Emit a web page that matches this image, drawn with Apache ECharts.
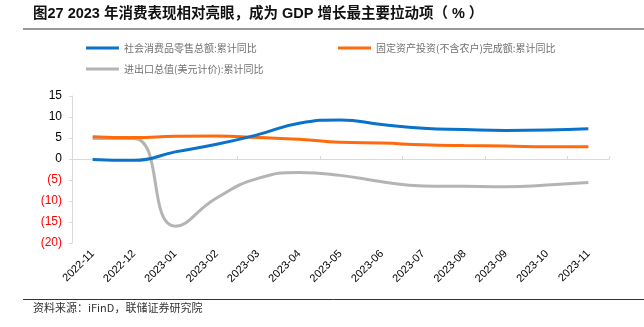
<!DOCTYPE html>
<html>
<head>
<meta charset="utf-8">
<script src="https://cdn.jsdelivr.net/npm/echarts@6/dist/echarts.min.js"></script>
<style>html,body{margin:0;padding:0;background:#fff}#c{width:644px;height:327px}</style>
</head>
<body>
<div id="c"></div>
<script>
const categories = ['2022-11','2022-12','2023-01','2023-02','2023-03','2023-04','2023-05','2023-06','2023-07','2023-08','2023-09','2023-10','2023-11'];
const retailSales = [-0.1, -0.3, 1.7, 3.5, 5.8, 8.5, 9.3, 8.2, 7.3, 7.0, 6.8, 6.9, 7.2];
const fixedInvestment = [5.3, 5.1, 5.4, 5.5, 5.1, 4.7, 4.0, 3.8, 3.4, 3.2, 3.1, 2.9, 2.9];
const tradeTotal = [4.9, 4.9, -16.0, -9.3, -4.6, -3.2, -3.9, -5.4, -6.4, -6.5, -6.6, -6.2, -5.6];
const yTicks = [15, 10, 5, 0, -5, -10, -15, -20];
const seriesNames = ['社会消费品零售总额:累计同比', '固定资产投资(不含农户)完成额:累计同比', '进出口总值(美元计价):累计同比'];
const colors = ['#0A72C8', '#FF6A0D', '#B4B4B4'];

const chart = echarts.init(document.getElementById('c'));
const latin = 'Liberation Sans, Arial, Noto Sans CJK SC, sans-serif';
const cjk = 'Noto Sans CJK SC, sans-serif';

function legendFor(i, left, top) {
  return {
    data: [seriesNames[i]], left: left, top: top, orient: 'horizontal',
    icon: 'rect', itemWidth: 33, itemHeight: 3, itemGap: 0, padding: 0,
    textStyle: { color: '#707070', fontSize: 10, fontFamily: cjk }
  };
}

chart.setOption({
  animation: false,
  title: {
    text: '图27 2023 年消费表现相对亮眼，成为 GDP 增长最主要拉动项（ % ）',
    left: 33, top: 7, padding: 0,
    textStyle: { fontSize: 14.5, fontWeight: 'bold', color: '#111', fontFamily: latin }
  },
  legend: [legendFor(0, 86, 43), legendFor(1, 338, 43), legendFor(2, 86, 64)],
  grid: { left: 72, right: 35, top: 96, bottom: 84, containLabel: false },
  xAxis: [
    {
      type: 'category', data: categories, boundaryGap: true, position: 'bottom',
      axisLine: { show: false, onZero: false }, axisTick: { show: false },
      axisLabel: { rotate: 45, fontSize: 11, color: '#000', fontFamily: latin, margin: 9, interval: 0 }
    },
    {
      type: 'category', data: categories, boundaryGap: true, position: 'bottom',
      axisLine: { show: true, onZero: true, onZeroAxisIndex: 0, lineStyle: { color: '#d9d9d9', width: 1 } },
      axisTick: { show: true, inside: true, length: 3, lineStyle: { color: '#d9d9d9' } },
      axisLabel: { show: false }
    }
  ],
  yAxis: {
    type: 'value', min: -20, max: 15, interval: 5,
    splitLine: { show: false },
    axisLine: { show: true, lineStyle: { color: '#d9d9d9', width: 1 } },
    axisTick: { show: true, length: 3, lineStyle: { color: '#d9d9d9' } },
    axisLabel: {
      fontSize: 12, fontFamily: latin, margin: 10,
      formatter: function (v) { return v < 0 ? '{neg|(' + Math.abs(v) + ')}' : '{pos|' + v + '}'; },
      rich: { neg: { color: '#FF0000', fontSize: 12, fontFamily: latin }, pos: { color: '#000', fontSize: 12, fontFamily: latin } }
    }
  },
  series: [
    { name: seriesNames[0], type: 'line', data: retailSales, smooth: 0.5, showSymbol: false, xAxisIndex: 0, lineStyle: { width: 3, color: colors[0] }, itemStyle: { color: colors[0] }, z: 4 },
    { name: seriesNames[1], type: 'line', data: fixedInvestment, smooth: 0.5, showSymbol: false, xAxisIndex: 0, lineStyle: { width: 3, color: colors[1] }, itemStyle: { color: colors[1] }, z: 3 },
    { name: seriesNames[2], type: 'line', data: tradeTotal, smooth: 0.5, showSymbol: false, xAxisIndex: 0, lineStyle: { width: 3, color: colors[2] }, itemStyle: { color: colors[2] }, z: 2 }
  ],
  graphic: [
    { type: 'line', shape: { x1: 23, y1: 29, x2: 644, y2: 29 }, style: { stroke: '#999', lineWidth: 2 } },
    { type: 'line', shape: { x1: 23, y1: 299.5, x2: 644, y2: 299.5 }, style: { stroke: '#333', lineWidth: 1 } },
    { type: 'text', left: 33, top: 302, style: { text: '资料来源：iFinD，联储证券研究院', fontSize: 11, fill: '#333', fontFamily: cjk } }
  ]
});
</script>
</body>
</html>
